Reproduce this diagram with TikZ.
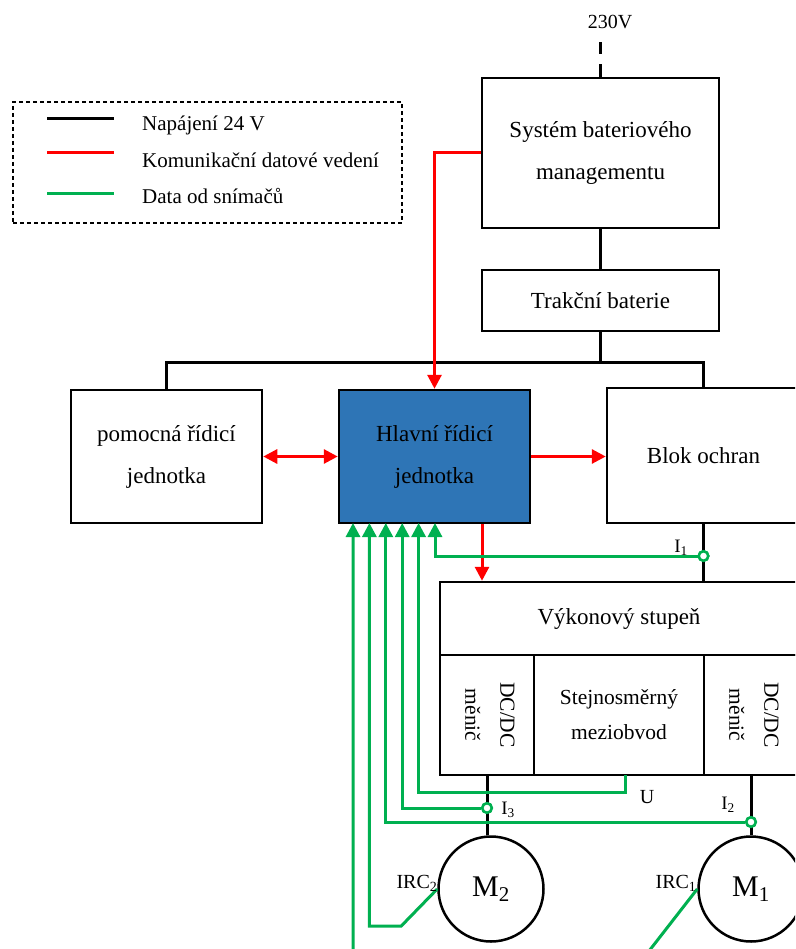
\documentclass[tikz,border=0pt]{standalone}
\usepackage{fontspec}
\setmainfont{Liberation Serif}
\usetikzlibrary{arrows.meta,positioning}
\definecolor{ctrlblue}{HTML}{2E75B6}
\definecolor{sensgreen}{HTML}{00B050}

\begin{document}
\begin{tikzpicture}[x=1pt, y=-1pt,
        >={Triangle[width=14pt,length=14pt]},
        box/.style={draw, line width=2.5pt, align=center, inner sep=0pt, font=\fontsize{23}{42}\selectfont},
        subbox/.style={draw, line width=2.5pt, align=center, inner sep=0pt, font=\fontsize{21.5}{35}\selectfont},
        power/.style={line width=3pt},
        comm/.style={red, line width=3pt},
        sens/.style={sensgreen, line width=3pt},
        tap/.style={circle, draw=sensgreen, fill=white, line width=2.5pt, minimum size=9.5pt, inner sep=0pt},
        motor/.style={circle, draw, line width=2.5pt, minimum size=105pt, inner sep=0pt, font=\fontsize{30}{30}\selectfont},
        lab/.style={inner sep=0pt, font=\fontsize{19}{19}\selectfont},
        legtext/.style={inner sep=0pt, anchor=base west, font=\fontsize{21}{21}\selectfont}]
    \useasboundingbox (0,0) rectangle (795,949);
    \clip (0,0) rectangle (795,949);

    \node[draw, dash pattern=on 4pt off 3pt, line width=1.2pt, minimum width=389pt, minimum height=121pt] (legend) at (207.5,162.5) {};
    \foreach \sty/\y/\base/\txt [count=\i] in {power/119/131/Napájení 24 V, comm/153/168/Komunikační datové vedení, sens/194/204/Data od snímačů} {
        \draw[\sty] (47,\y) -- (114,\y);
        \node[legtext] (leg\i) at (142,\base) {\txt};
    }

    \node[lab, font=\fontsize{20}{20}\selectfont] (volt) at (610,22) {230V};
    \node[box, minimum width=237pt, minimum height=150pt] (bms) at (600.5,153) {Systém bateriového\\managementu};
    \node[box, minimum width=237pt, minimum height=61pt] (trakce) at (600.5,300.5) {Trakční baterie};

    \node[box, minimum width=191pt, minimum height=133pt] (pomocna) at (166.5,456.5) {pomocná řídicí\\jednotka};
    \node[box, fill=ctrlblue, minimum width=191pt, minimum height=133pt] (hlavni) at (434.5,456.5) {Hlavní řídicí\\jednotka};
    \node[box, minimum width=193pt, minimum height=135pt] (blok) at (703.5,455.5) {Blok ochran};

    \node[box, minimum width=358pt, minimum height=73pt] (vykon) at (619,618.5) {Výkonový stupeň};
    \node[subbox, minimum width=94pt, minimum height=120pt] (dcdc2) at (487,715) {};
    \node[subbox, minimum width=170pt, minimum height=120pt] (mezi) at (619,715) {Stejnosměrný\\meziobvod};
    \node[subbox, minimum width=94pt, minimum height=120pt] (dcdc1) at (751,715) {};
    \node[subbox, draw=none, rotate=-90] (dcdc2txt) at ([xshift=3pt]dcdc2.center) {DC/DC\\měnič};
    \node[subbox, draw=none, rotate=-90] (dcdc1txt) at ([xshift=3pt]dcdc1.center) {DC/DC\\měnič};

    \node[motor] (m2) at (491,889) {M\textsubscript{2}};
    \node[motor] (m1) at (751,889) {M\textsubscript{1}};

    % napajeni
    \coordinate (mainsin) at (600.5,42);
    \coordinate (busL) at (166.5,362);
    \coordinate (busR) at (703.5,362);
    \draw[power, dash pattern=on 13pt off 10pt] (bms.north) -- (mainsin);
    \draw[power] (bms) -- (trakce);
    \draw[power] (trakce.south) -- (trakce.south |- busL);
    \draw[power] (pomocna.north) -- (busL) -- (busR) -- (blok.north);
    \draw[power] (blok.south) -- (blok.south |- vykon.north);
    \draw[power] (dcdc2.south) -- (dcdc2.south |- m2.north);
    \draw[power] (dcdc1.south) -- (m1.north);

    % komunikace
    \coordinate (ctrlout) at (482,0);
    \draw[comm, ->] (bms.west) -| (hlavni.north);
    \draw[comm, <->] (pomocna.east) -- (hlavni.west);
    \draw[comm, ->] (hlavni.east) -- (hlavni.east -| blok.west);
    \draw[comm, ->] (hlavni.south -| ctrlout) -- (vykon.north -| ctrlout);

    % snimace
    \foreach \k in {1,...,6}
        \coordinate (in\k) at (336.6+16.4*\k,523);
    \coordinate (utap) at (625,775);
    \coordinate (ubend) at (625,792);
    \node[tap] (i1) at (703.5,556) {};
    \node[tap] (i3) at (487,808) {};
    \node[tap] (i2) at (751,822) {};
    \draw[sens, ->] (i1) -| (in6);
    \draw[sens, ->] (utap) -- (ubend) -| (in5);
    \draw[sens, ->] (i3) -| (in4);
    \draw[sens, ->] (i2) -| (in3);
    \draw[sens, ->] (m2.west) -- ++(-36,37) -| (in2);
    \draw[sens, ->] (m1.west) -- ++(-70,90) -| (in1);
    \node[tap] at (i1) {};
    \node[tap] at (i3) {};
    \node[tap] at (i2) {};

    \node[lab] (li1) at (681,548) {I\textsubscript{1}};
    \node[lab] (li3) at (508,810) {I\textsubscript{3}};
    \node[lab] (li2) at (728,805) {I\textsubscript{2}};
    \node[lab, font=\fontsize{20}{20}\selectfont] (lu) at (647,797) {U};
    \node[lab, font=\fontsize{20}{20}\selectfont] (lirc2) at (417,883) {IRC\textsubscript{2}};
    \node[lab, font=\fontsize{20}{20}\selectfont] (lirc1) at (676,883) {IRC\textsubscript{1}};
\end{tikzpicture}
\end{document}
